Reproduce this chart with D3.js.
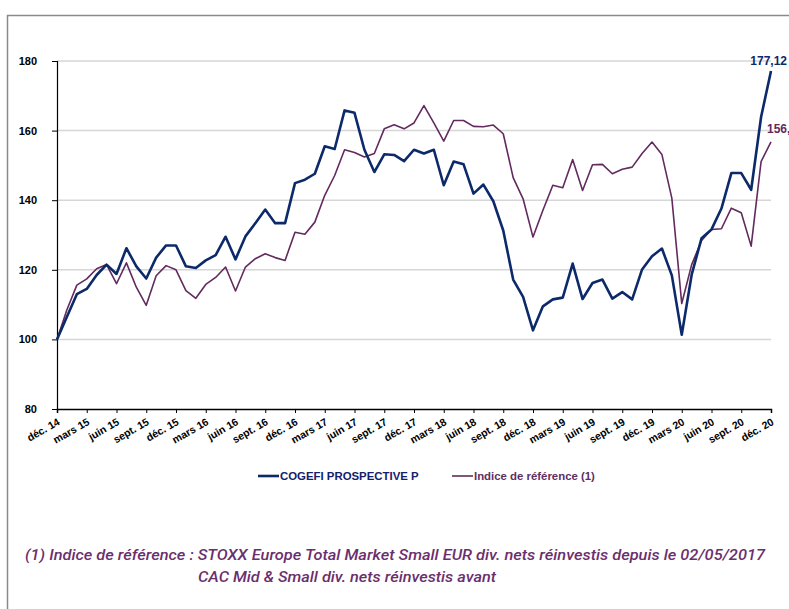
<!DOCTYPE html>
<html><head><meta charset="utf-8">
<script src="https://cdn.jsdelivr.net/npm/d3@7"></script>
<style>
html,body{margin:0;padding:0;background:#fff;overflow:hidden}
svg{display:block}
</style></head>
<body>
<svg id="c" width="789" height="609"></svg>
<script>
const tickLabels = ["déc. 14","mars 15","juin 15","sept. 15","déc. 15","mars 16","juin 16","sept. 16","déc. 16","mars 17","juin 17","sept. 17","déc. 17","mars 18","juin 18","sept. 18","déc. 18","mars 19","juin 19","sept. 19","déc. 19","mars 20","juin 20","sept. 20","déc. 20"];
const yTicks = [80,100,120,140,160,180];
const fundName = "COGEFI PROSPECTIVE P";
const refName = "Indice de référence (1)";
const fund = [100,106.5,113,114.5,118.5,121.5,118.8,126.2,121,117.5,123.5,127,127,121,120.5,122.7,124.2,129.5,123,129.6,133.4,137.3,133.4,133.4,144.9,145.9,147.6,155.5,154.7,165.8,165.1,154.5,148.1,153.2,153,151.2,154.5,153.4,154.5,144.3,151.1,150.3,141.9,144.5,139.7,131.3,117.2,112.2,102.6,109.5,111.5,112,121.8,111.6,116.2,117.2,111.7,113.6,111.5,120.1,123.9,126.1,118.4,101.35,118.6,129.1,131.6,137.6,147.8,147.8,143,163.9,177.12];
const ref = [100,108.5,115.6,117.4,120.3,121.5,116,122,115,109.8,118.3,121.2,120,114,111.8,115.8,117.8,120.8,113.9,120.8,123.2,124.6,123.5,122.7,130.8,130.2,133.7,141.4,147.1,154.5,153.7,152.4,153.4,160.5,161.7,160.5,162.2,167.2,162.2,157,162.9,162.9,161.2,161.1,161.6,159.1,146.5,140.4,129.4,137.1,144.3,143.6,151.7,142.8,150.2,150.3,147.6,148.9,149.5,153.4,156.7,153.1,140.6,110.3,121.5,128.4,131.6,131.8,137.7,136.4,126.8,151.1,156.74];
const footnote1 = "(1) Indice de référence : STOXX Europe Total Market Small EUR div. nets réinvestis depuis le 02/05/2017";
const footnote2 = "CAC Mid & Small div. nets réinvestis avant";

const blue = "#0c2a6a", purple = "#622a5e";
const svg = d3.select("#c");
const font = "'Liberation Sans', Arial, sans-serif";

// frame
svg.append("path").attr("d","M7.5,620 V15.5 H800").attr("fill","none").attr("stroke","#8a8a8a").attr("stroke-width",1.5);

const x = d3.scaleLinear().domain([0, fund.length-1]).range([57, 771]);
const y = d3.scaleLinear().domain([80,180]).range([409, 61]);

// gridlines
svg.append("g").selectAll("line").data(yTicks.filter(d=>d>80)).join("line")
  .attr("x1",57).attr("x2",771).attr("y1",d=>y(d)).attr("y2",d=>y(d))
  .attr("stroke","#d6d6d6").attr("stroke-width",1.5);

// y axis
const ya = svg.append("g").attr("transform","translate(57,0)")
  .call(d3.axisLeft(y).tickValues(yTicks).tickSize(5).tickPadding(15).tickFormat(d3.format("d")));
ya.select(".domain").attr("stroke","#000").attr("stroke-width",1.2);
ya.selectAll(".tick line").attr("stroke","#000");
ya.selectAll("text").attr("font-family",font).attr("font-weight","bold").attr("font-size",11).attr("fill","#000");

// x axis
const xa = svg.append("g").attr("transform","translate(0,409)")
  .call(d3.axisBottom(x).tickValues(d3.range(0, fund.length, 3)).tickSize(4)
    .tickFormat((d,i)=>tickLabels[i]));
xa.select(".domain").attr("stroke","#000").attr("stroke-width",1.5);
xa.selectAll(".tick line").attr("stroke","#000");
xa.selectAll("text").attr("font-family",font).attr("font-weight","bold").attr("font-size",10.5).attr("fill","#000")
  .attr("text-anchor","end").attr("dy",0).attr("y",0)
  .attr("transform","translate(3,15) rotate(-30)");

// lines
const line = d3.line().x((d,i)=>x(i)).y(d=>y(d));
svg.append("path").datum(ref).attr("d",line).attr("fill","none").attr("stroke",purple).attr("stroke-width",1.6).attr("stroke-linejoin","round");
svg.append("path").datum(fund).attr("d",line).attr("fill","none").attr("stroke",blue).attr("stroke-width",2.6).attr("stroke-linejoin","round");

// end labels
const fmt = v => d3.format(".2f")(v).replace(".", ",");
svg.append("text").attr("x",787).attr("y",65).attr("text-anchor","end")
  .attr("font-family",font).attr("font-weight","bold").attr("font-size",12).attr("fill",blue)
  .text(fmt(fund[fund.length-1]));
svg.append("text").attr("x",767).attr("y",133)
  .attr("font-family",font).attr("font-weight","bold").attr("font-size",12).attr("fill",purple)
  .text(fmt(ref[ref.length-1]));

// legend
const leg = [{name:fundName,c:blue,w:2.6,x:258,tc:"#14206a",tl:139},{name:refName,c:purple,w:1.6,x:452,tc:"#5e2f63",tl:120}];
leg.forEach(l=>{
  svg.append("line").attr("x1",l.x).attr("x2",l.x+21).attr("y1",476).attr("y2",476).attr("stroke",l.c).attr("stroke-width",l.w);
  svg.append("text").attr("x",l.x+22).attr("y",480).attr("font-family",font).attr("font-weight","bold").attr("font-size",11.4).attr("fill",l.tc).text(l.name);
});

// footnote
const ffont = "Roboto, 'Liberation Sans Narrow', sans-serif";
svg.append("text").attr("x",25).attr("y",560).attr("font-family",ffont).attr("font-style","italic").attr("font-weight",500).attr("font-size",15)
  .attr("fill","#6b2f6e").attr("textLength",740).attr("lengthAdjust","spacingAndGlyphs").text(footnote1);
svg.append("text").attr("x",198).attr("y",582).attr("font-family",ffont).attr("font-style","italic").attr("font-weight",500).attr("font-size",15)
  .attr("fill","#6b2f6e").attr("textLength",298).attr("lengthAdjust","spacingAndGlyphs").text(footnote2);
</script>
</body></html>
